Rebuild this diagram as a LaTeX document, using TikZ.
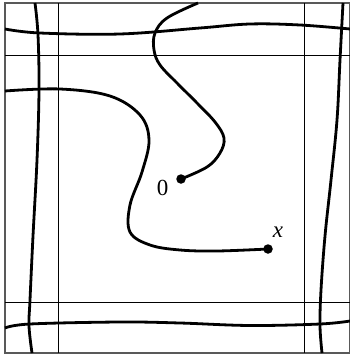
\documentclass[tikz,border=0pt]{standalone}
\usepackage{fontspec}
\setmainfont{Liberation Serif}
\begin{document}
\begin{tikzpicture}[x=1pt,y=-1pt,
  thinline/.style={line width=1pt,black},
  frame/.style={line width=1.1pt,black!65},
  thick curve/.style={line width=2.8pt,black,line cap=butt},
  dot/.style={circle,fill=black,inner sep=0pt,minimum size=9.5pt},
  lab/.style={font=\fontsize{23}{23}\selectfont,inner sep=0pt}]
\useasboundingbox (0,0) rectangle (350,356);
% frame and grid lines
\draw[frame] (5,3) rectangle (349.5,353);
\draw[thinline] (58,3) -- (58,353);
\draw[thinline] (304,3) -- (304,353);
\draw[thinline] (5,55) -- (349.5,55);
\draw[thinline] (5,302) -- (349.5,302);
% boundary curves
\draw[thick curve] plot[smooth,tension=0.6] coordinates {(5,29) (40,33) (120,34) (200,28) (250,24) (300,25) (350,29)};
\draw[thick curve] plot[smooth,tension=0.6] coordinates {(5,328) (30,324) (120,322) (180,323) (250,325.5) (320,324) (350,321)};
\draw[thick curve] plot[smooth,tension=0.6] coordinates {(35,3) (38,35) (39,90) (37,160) (33,236) (30,300) (29,326) (32,353)};
\draw[thick curve] plot[smooth,tension=0.6] coordinates {(343,3) (340,60) (337,120) (331,180) (325,236) (321,290) (320,326) (322,353)};
% points
\node[dot] (o) at (181,179) {};
\node[dot] (xp) at (268,249) {};
\node[lab] (ol) at (162.5,188) {0};
\node[lab] (xl) at (278,232) {\textit{x}};
% paths
\draw[thick curve] plot[smooth,tension=0.6] coordinates {(198,3) (167,18) (155,33) (154,50) (160,65) (177,83) (197,103) (215,122) (224,138) (220,153) (207,167) (o.center)};
\draw[thick curve] plot[smooth,tension=0.6] coordinates {(5,91) (60,89) (110,96) (140,115) (149,140) (142,172) (130,205) (130,232) (150,245) (180,250) (217,251) (xp.center)};
\end{tikzpicture}
\end{document}
